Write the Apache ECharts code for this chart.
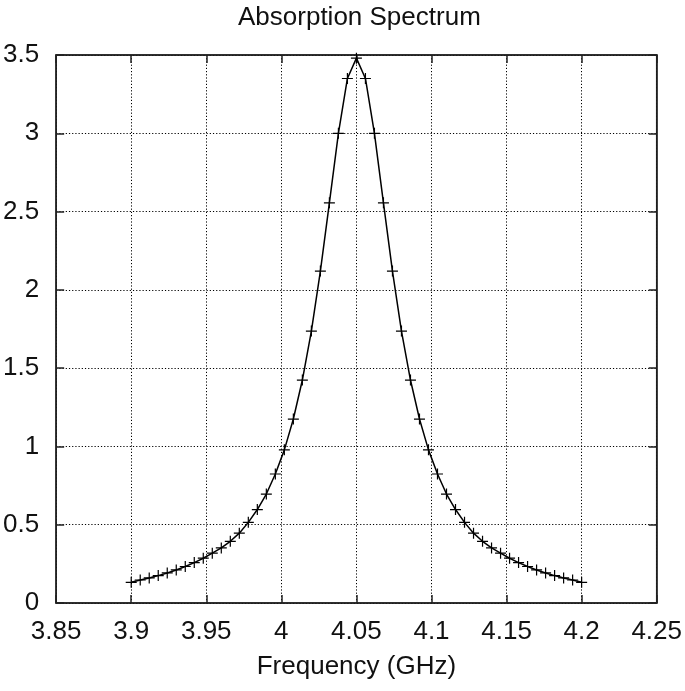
<!DOCTYPE html>
<html>
<head>
<meta charset="utf-8">
<script src="https://cdn.jsdelivr.net/npm/echarts@6/dist/echarts.min.js"></script>
<style>
html,body{margin:0;padding:0;background:#fff;}
#chart{width:685px;height:691px;}
</style>
</head>
<body>
<div id="chart"></div>
<script>
const frequency = [
  3.900, 3.906, 3.912, 3.918, 3.924, 3.930, 3.936, 3.942, 3.948, 3.954,
  3.960, 3.966, 3.972, 3.978, 3.984, 3.990, 3.996, 4.002, 4.008, 4.014,
  4.020, 4.026, 4.032, 4.038, 4.044, 4.050, 4.056, 4.062, 4.068, 4.074,
  4.080, 4.086, 4.092, 4.098, 4.104, 4.110, 4.116, 4.122, 4.128, 4.134,
  4.140, 4.146, 4.152, 4.158, 4.164, 4.170, 4.176, 4.182, 4.188, 4.194,
  4.200
];
const absorption = [
  0.132, 0.147, 0.160, 0.175, 0.192, 0.211, 0.233, 0.258, 0.286, 0.318,
  0.352, 0.394, 0.446, 0.515, 0.597, 0.696, 0.824, 0.978, 1.175, 1.424,
  1.737, 2.120, 2.556, 3.000, 3.350, 3.480, 3.350, 3.000, 2.556, 2.120,
  1.737, 1.424, 1.175, 0.978, 0.824, 0.696, 0.597, 0.515, 0.446, 0.394,
  0.352, 0.318, 0.286, 0.258, 0.233, 0.211, 0.192, 0.175, 0.160, 0.147,
  0.132
];
const titleText = 'Absorption Spectrum';
const xName = 'Frequency (GHz)';

const FONT = '"Liberation Sans", Arial, Helvetica, sans-serif';
const chart = echarts.init(document.getElementById('chart'), null, {renderer: 'canvas'});
const fmt = v => String(parseFloat(Number(v).toFixed(2)));
const dotted = {show: true, lineStyle: {color: '#000', width: 1, type: [1.2, 2]}};
const plus = 'path://M0,5L10,5M5,0L5,10';

chart.setOption({
  backgroundColor: '#fff',
  animation: false,
  title: {
    text: titleText, left: 233, top: 0,
    textStyle: {fontFamily: FONT, fontSize: 26, fontWeight: 'normal', color: '#111'}
  },
  grid: {left: 52, right: 28, top: 55, bottom: 88, containLabel: false, show: true, borderColor: '#222', borderWidth: 1.5},
  xAxis: [{
    type: 'value', min: 3.85, max: 4.25, interval: 0.05,
    name: xName, nameLocation: 'middle', nameGap: 51,
    nameTextStyle: {fontFamily: FONT, fontSize: 26, color: '#111'},
    axisLine: {show: true, onZero: false, lineStyle: {color: '#222', width: 1.5}},
    axisTick: {show: true, inside: true, length: 8, lineStyle: {color: '#222', width: 1.5}},
    axisLabel: {fontFamily: FONT, fontSize: 26, color: '#111', margin: 16, formatter: fmt},
    splitLine: dotted
  }, {
    type: 'value', position: 'top', min: 3.85, max: 4.25, interval: 0.05,
    axisLine: {show: true, onZero: false, lineStyle: {color: '#222', width: 1.5}},
    axisTick: {show: true, inside: true, length: 8, lineStyle: {color: '#222', width: 1.5}},
    axisLabel: {show: false}, splitLine: {show: false}
  }],
  yAxis: [{
    type: 'value', min: 0, max: 3.5, interval: 0.5,
    axisLine: {show: true, onZero: false, lineStyle: {color: '#222', width: 1.5}},
    axisTick: {show: true, inside: true, length: 8, lineStyle: {color: '#222', width: 1.5}},
    axisLabel: {fontFamily: FONT, fontSize: 26, color: '#111', margin: 17, formatter: fmt},
    splitLine: dotted
  }, {
    type: 'value', position: 'right', min: 0, max: 3.5, interval: 0.5,
    axisLine: {show: true, onZero: false, lineStyle: {color: '#222', width: 1.5}},
    axisTick: {show: true, inside: true, length: 8, lineStyle: {color: '#222', width: 1.5}},
    axisLabel: {show: false}, splitLine: {show: false}
  }],
  series: [{
    type: 'line',
    data: frequency.map((f, i) => [f, absorption[i]]),
    symbol: plus, symbolSize: 11, showAllSymbol: true,
    lineStyle: {color: '#000', width: 1.5},
    itemStyle: {color: 'rgba(0,0,0,0)', borderColor: '#000', borderWidth: 1.2},
    clip: false
  }]
});
</script>
</body>
</html>
